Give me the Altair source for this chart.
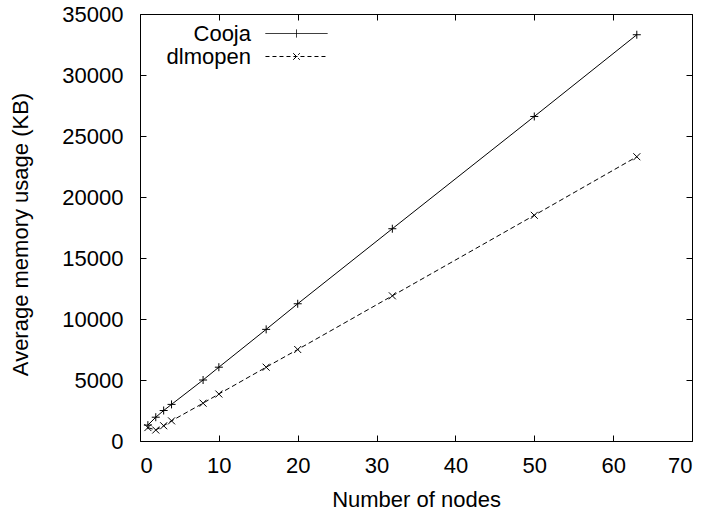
import altair as alt
import pandas as pd

nodes = [1, 2, 3, 4, 8, 10, 16, 20, 32, 50, 63]
cooja = [1300, 1950, 2500, 3000, 5000, 6050, 9150, 11250, 17400, 26600, 33300]
dlmopen = [1100, 900, 1250, 1650, 3100, 3850, 6050, 7500, 11900, 18500, 23300]
series_names = ["Cooja", "dlmopen"]
x_ticks = [0, 10, 20, 30, 40, 50, 60, 70]
y_ticks = [0, 5000, 10000, 15000, 20000, 25000, 30000, 35000]

rows = []
for n, c in zip(nodes, cooja):
    rows.append({"nodes": n, "mem": c, "series": "Cooja"})
for n, d in zip(nodes, dlmopen):
    rows.append({"nodes": n, "mem": d, "series": "dlmopen"})
df = pd.DataFrame(rows)

FONT = "Liberation Sans"
FS = 22

xscale = alt.Scale(domain=[0, 70], nice=False, zero=False)
yscale = alt.Scale(domain=[0, 35000], nice=False, zero=False)

x_bottom = alt.Axis(
    orient="bottom", values=x_ticks, offset=-6, tickSize=6, domain=False, grid=False,
    labelPadding=14, labelFont=FONT, labelFontSize=FS, labelColor="black",
    tickColor="black", title="Number of nodes", titleFont=FONT, titleFontSize=FS,
    titleFontWeight="normal", titleColor="black", titleBaseline="alphabetic",
    titleY=71, format="d",
)
y_left = alt.Axis(
    orient="left", values=y_ticks, offset=-6, tickSize=6, domain=False, grid=False,
    labelPadding=17, labelFont=FONT, labelFontSize=FS, labelColor="black",
    tickColor="black", title="Average memory usage (KB)", titleFont=FONT,
    titleFontSize=FS, titleFontWeight="normal", titleColor="black",
    titleAngle=270, titleBaseline="alphabetic", titleAlign="center",
    titleX=-119, titleY=220, format="d",
)
x_top = alt.Axis(orient="top", values=x_ticks, offset=-6, tickSize=6, domain=False,
                 grid=False, labels=False, title=None, tickColor="black")
y_right = alt.Axis(orient="right", values=y_ticks, offset=-6, tickSize=6, domain=False,
                   grid=False, labels=False, title=None, tickColor="black")

base = alt.Chart(df)

cooja_line = base.transform_filter(alt.datum.series == "Cooja").mark_line(
    color="black", strokeWidth=1
).encode(
    x=alt.X("nodes:Q", scale=xscale, axis=x_bottom),
    y=alt.Y("mem:Q", scale=yscale, axis=y_left),
)
cooja_pts = base.transform_filter(alt.datum.series == "Cooja").mark_point(
    shape="M-1,0L1,0M0,-1L0,1", size=64, filled=False, color="black", strokeWidth=1, opacity=1
).encode(
    x=alt.X("nodes:Q", scale=xscale, axis=x_top),
    y=alt.Y("mem:Q", scale=yscale, axis=y_right),
)
dl_line = base.transform_filter(alt.datum.series == "dlmopen").mark_line(
    color="black", strokeWidth=1, strokeDash=[5, 3]
).encode(
    x=alt.X("nodes:Q", scale=xscale, axis=None),
    y=alt.Y("mem:Q", scale=yscale, axis=None),
)
dl_pts = base.transform_filter(alt.datum.series == "dlmopen").mark_point(
    shape="M-1,-1L1,1M-1,1L1,-1", size=49, filled=False, color="black", strokeWidth=1, opacity=1
).encode(
    x=alt.X("nodes:Q", scale=xscale, axis=None),
    y=alt.Y("mem:Q", scale=yscale, axis=None),
)

def make_legend():
    return alt.Legend(
        orient="none", legendX=145, legendY=8, title=None, padding=0,
        symbolSize=484, symbolStrokeWidth=1, symbolStrokeColor="black",
        symbolFillColor="transparent", rowPadding=0, symbolOpacity=1,
        labelAlign="right", labelOffset={"expr": "-57"}, labelFont=FONT,
        labelFontSize=FS, labelColor="black", labelLimit=300,
    )

legend_layer = base.transform_filter("datum.nodes < 0").mark_point(
    filled=False, color="black", strokeWidth=1, opacity=1
).encode(
    x=alt.X("nodes:Q", scale=xscale, axis=None),
    y=alt.Y("mem:Q", scale=yscale, axis=None),
    shape=alt.Shape(
        "series:N",
        scale=alt.Scale(
            domain=series_names,
            range=[
                "M-2.82,0L2.82,0M0,-0.36L0,0.36",
                "M-2.82,0L2.82,0M-0.3,-0.3L0.3,0.3M-0.3,0.3L0.3,-0.3",
            ],
        ),
        legend=make_legend(),
    ),
    strokeDash=alt.StrokeDash(
        "series:N",
        scale=alt.Scale(domain=series_names, range=[[1, 0], [4, 3]]),
        legend=make_legend(),
    ),
)

chart = alt.layer(cooja_line, cooja_pts, dl_line, dl_pts, legend_layer).resolve_axis(
    x="independent", y="independent"
).properties(
    width=552,
    height=427,
    autosize=alt.AutoSizeParams(type="none"),
    padding={"left": 140, "top": 14, "right": 20, "bottom": 69},
    background="white",
).configure_view(stroke="black", strokeWidth=1)

chart.save("out.html", embed_options={"renderer": "svg", "actions": False})
